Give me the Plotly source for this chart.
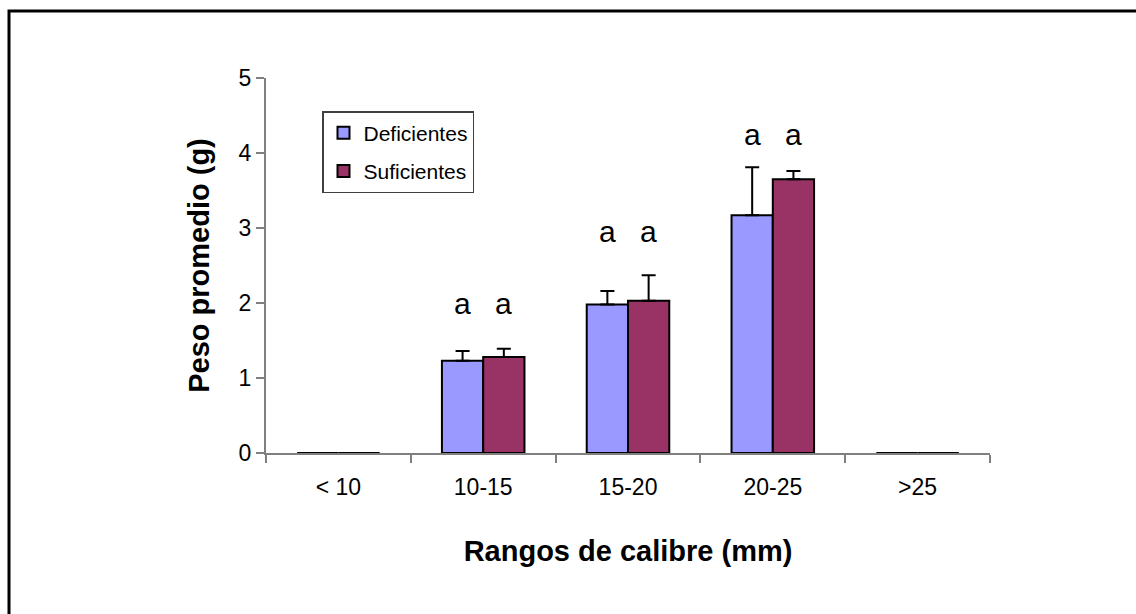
import plotly.graph_objects as go

# Calibre ranges and mean weights per group
categories = ["< 10", "10-15", "15-20", "20-25", ">25"]
deficientes = [0, 1.23, 1.98, 3.17, 0]
deficientes_err = [0, 0.13, 0.18, 0.64, 0]
suficientes = [0, 1.28, 2.03, 3.65, 0]
suficientes_err = [0, 0.11, 0.34, 0.11, 0]

# Significance letters shown above the groups that have data
letter_cats = ["10-15", "15-20", "20-25"]
letters_def = ["a", "a", "a"]
letters_suf = ["a", "a", "a"]
letter_levels = [1.99, 2.96, 4.25]

FONT = "Liberation Sans, Arial, sans-serif"
W, H = 1136, 614
ML, MR, MT, MB = 266, 146, 78, 161
BARGAP = 0.43

fig = go.Figure()
fig.add_trace(go.Bar(
    name="Deficientes", x=categories, y=deficientes,
    marker=dict(color="#9999FF", line=dict(color="black", width=2)),
    error_y=dict(type="data", symmetric=False, array=deficientes_err,
                 arrayminus=[0] * len(categories), color="black",
                 thickness=2, width=7),
    legendgroup="d",
))
fig.add_trace(go.Bar(
    name="Suficientes", x=categories, y=suficientes,
    marker=dict(color="#993366", line=dict(color="black", width=2)),
    error_y=dict(type="data", symmetric=False, array=suficientes_err,
                 arrayminus=[0] * len(categories), color="black",
                 thickness=2, width=7),
    legendgroup="s",
))

# Horizontal offset of each bar centre from its category centre, in px
cat_px = (W - ML - MR) / len(categories)
half_bar = cat_px * (1 - BARGAP) / 4
for cat, ld, ls, lv in zip(letter_cats, letters_def, letters_suf, letter_levels):
    for txt, shift in ((ld, -half_bar), (ls, half_bar)):
        fig.add_annotation(x=cat, y=lv, text=txt, showarrow=False,
                           xshift=shift, yanchor="middle",
                           font=dict(family=FONT, size=30, color="black"))

# Outer frame of the chart area
fig.add_shape(type="rect", xref="paper", yref="paper",
              x0=(9 - ML) / (W - ML - MR), x1=1.4,
              y0=-0.6, y1=(H - MB - 11) / (H - MT - MB),
              line=dict(color="black", width=3), layer="below")

fig.update_layout(
    width=W, height=H,
    margin=dict(l=ML, r=MR, t=MT, b=MB),
    paper_bgcolor="white", plot_bgcolor="white",
    barmode="group", bargap=BARGAP, bargroupgap=0,
    font=dict(family=FONT, color="black"),
    showlegend=True,
    legend=dict(
        x=(322 - ML) / (W - ML - MR), y=(H - MB - 111) / (H - MT - MB),
        xanchor="left", yanchor="top",
        bgcolor="white", bordercolor="#404040", borderwidth=1.5,
        font=dict(family=FONT, size=21, color="black"),
        traceorder="grouped", tracegroupgap=8,
    ),
    xaxis=dict(
        showline=True, linecolor="#808080", linewidth=2,
        ticks="outside", tickson="boundaries", ticklen=8,
        tickcolor="#808080", tickwidth=2,
        tickfont=dict(family=FONT, size=23, color="black"),
        ticklabelstandoff=12,
        title=dict(text="<b>Rangos de calibre (mm)</b>", standoff=42,
                   font=dict(family=FONT, size=29, color="black")),
        showgrid=False, zeroline=False,
    ),
    yaxis=dict(
        range=[0, 5], dtick=1, tick0=0,
        showline=True, linecolor="#808080", linewidth=2,
        ticks="outside", ticklen=8, tickcolor="#808080", tickwidth=2,
        tickfont=dict(family=FONT, size=23, color="black"),
        title=dict(text="<b>Peso promedio (g)</b>", standoff=20,
                   font=dict(family=FONT, size=29, color="black")),
        showgrid=False, zeroline=False,
    ),
)

fig.write_html("out.html")
